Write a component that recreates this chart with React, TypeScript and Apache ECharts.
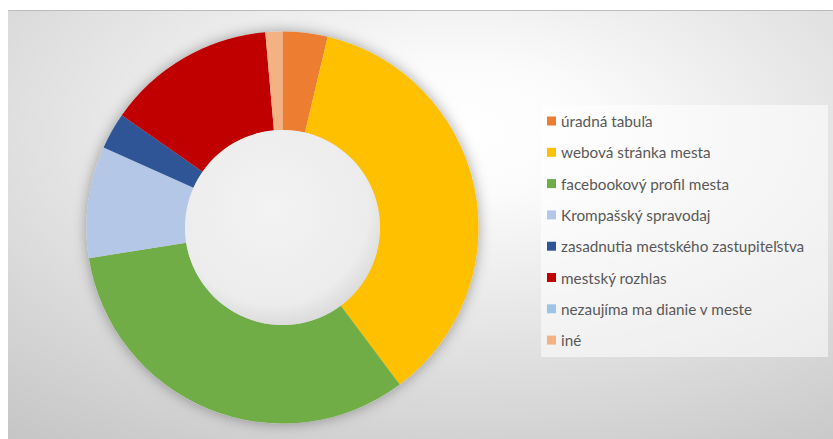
import React, { useEffect, useRef } from "react";
import * as echarts from "echarts";

const categories = [
  "úradná tabuľa",
  "webová stránka mesta",
  "facebookový profil mesta",
  "Krompašský spravodaj",
  "zasadnutia mestského zastupiteľstva",
  "mestský rozhlas",
  "nezaujíma ma dianie v meste",
  "iné",
];
const values = [3.7, 36.1, 32.7, 9.2, 3.0, 13.9, 0, 1.4];
const colors = [
  "#ED7D31",
  "#FFC000",
  "#70AD47",
  "#B4C7E7",
  "#2F5597",
  "#C00000",
  "#9DC3E6",
  "#F4B183",
];

export default function App() {
  const ref = useRef<HTMLDivElement>(null);
  useEffect(() => {
    if (!ref.current) return;
    const chart = echarts.init(ref.current, null, { renderer: "svg" });
    const W = 825;
    const H = 429;
    const center = [274.5, 217.5];
    chart.setOption({
      animation: false,
      graphic: [
        {
          type: "rect",
          z: -10,
          silent: true,
          shape: { x: 0, y: 0, width: W, height: H },
          style: {
            fill: {
              type: "radial",
              x: 0.55,
              y: 0.28,
              r: 1.02,
              colorStops: [
                { offset: 0, color: "#ffffff" },
                { offset: 0.15, color: "#fbfbfb" },
                { offset: 1, color: "#bdbdbd" },
              ],
            },
          },
        },
        {
          type: "rect",
          z: -9,
          silent: true,
          shape: { x: 0, y: 0, width: W, height: 1 },
          style: { fill: "#bcbcbc" },
        },
        {
          type: "rect",
          z: 0,
          silent: true,
          shape: { x: 533, y: 95, width: 287, height: 252 },
          style: { fill: "rgba(255,255,255,0.55)" },
        },
      ],
      legend: {
        orient: "vertical",
        left: 539,
        top: 103,
        padding: 0,
        data: categories,
        icon: "rect",
        itemWidth: 9,
        itemHeight: 9,
        itemGap: 15.3,
        itemTextGap: 5,
        selectedMode: false,
        textStyle: {
          fontFamily: "Lato",
          fontSize: 15.3,
          lineHeight: 16,
          color: "#595959",
        },
      },
      series: [
        {
          type: "pie",
          name: "shadow",
          silent: true,
          z: 1,
          center,
          radius: [0, 196],
          label: { show: false },
          labelLine: { show: false },
          data: [{ name: "_bg", value: 1 }],
          itemStyle: {
            color: "#d8d8d8",
            shadowBlur: 14,
            shadowColor: "rgba(0,0,0,0.35)",
          },
        },
        {
          type: "pie",
          name: "main",
          silent: true,
          z: 2,
          center,
          radius: [97.5, 196],
          startAngle: 90,
          clockwise: true,
          label: { show: false },
          labelLine: { show: false },
          emphasis: { disabled: true },
          data: categories.map((c, i) => ({
            name: c,
            value: values[i],
            itemStyle: { color: colors[i] },
          })),
        },
        {
          type: "pie",
          name: "hole",
          silent: true,
          z: 3,
          center,
          radius: [0, 97.5],
          label: { show: false },
          labelLine: { show: false },
          data: [{ name: "_hole", value: 1 }],
          itemStyle: {
            color: {
              type: "radial",
              x: 0.45,
              y: 0.4,
              r: 0.62,
              colorStops: [
                { offset: 0, color: "#f3f3f3" },
                { offset: 0.8, color: "#ececec" },
                { offset: 1, color: "#d9d9d9" },
              ],
            },
          },
        },
      ],
    });
    return () => chart.dispose();
  }, []);
  return (
    <div
      ref={ref}
      style={{ position: "absolute", left: 8, top: 10, width: 825, height: 429 }}
    />
  );
}
